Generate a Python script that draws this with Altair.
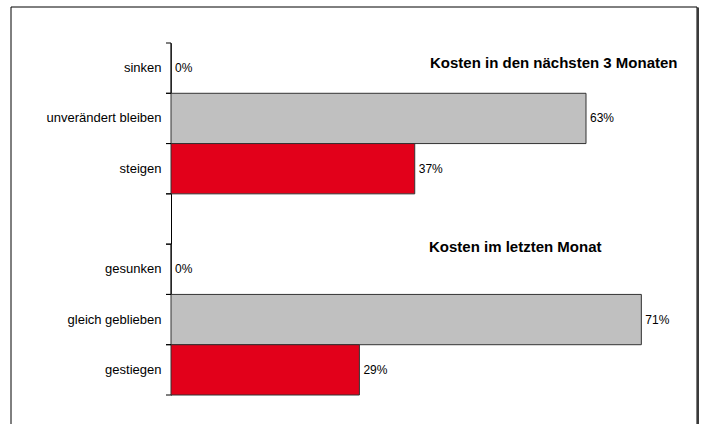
import altair as alt
import pandas as pd

# Category order on the y axis ("_gap" is the empty separator row)
categories = ["sinken", "unverändert bleiben", "steigen", "_gap",
              "gesunken", "gleich geblieben", "gestiegen"]

# Bars
bar_categories = ["sinken", "unverändert bleiben", "steigen",
                  "gesunken", "gleich geblieben", "gestiegen"]
bar_values = [0, 63, 37, 0, 71.4, 28.6]
bar_kinds = ["down", "same", "up", "down", "same", "up"]

kind_domain = ["down", "same", "up"]
kind_colors = ["#FFFFFF", "#C0C0C0", "#E2001A"]

titles = ["Kosten in den nächsten 3 Monaten", "Kosten im letzten Monat"]

FONT = "Liberation Sans"
W, H = 527, 352

df = pd.DataFrame({"cat": bar_categories, "value": bar_values, "kind": bar_kinds})
cat_df = pd.DataFrame({"cat": categories})
one = pd.DataFrame({"a": [0]})

yscale = alt.Scale(domain=categories, paddingInner=0, paddingOuter=0)
xscale = alt.Scale(domain=[0, 80], nice=False, zero=True)

yaxis = alt.Axis(
    title=None, ticks=False, domain=True, domainColor="#000000", domainWidth=1,
    labelFont=FONT, labelFontSize=13, labelColor="#000000", labelPadding=10,
    labelExpr="datum.value == '_gap' ? '' : datum.value", grid=False,
)

bars = alt.Chart(df).mark_bar(stroke="#333333", strokeWidth=1).encode(
    x=alt.X("value:Q", scale=xscale, axis=None),
    y=alt.Y("cat:N", scale=yscale, axis=yaxis, sort=categories),
    color=alt.Color("kind:N", scale=alt.Scale(domain=kind_domain, range=kind_colors), legend=None),
)

labels = alt.Chart(df).transform_calculate(
    label="format(datum.value, '.0f') + '%'"
).mark_text(align="left", baseline="middle", dx=4, font=FONT, fontSize=12, color="#000000").encode(
    x=alt.X("value:Q", scale=xscale, axis=None),
    y=alt.Y("cat:N", scale=yscale, sort=categories),
    text="label:N",
)

ticks_top = alt.Chart(cat_df).mark_rule(color="#000000", strokeWidth=1).encode(
    y=alt.Y("cat:N", scale=yscale, sort=categories, bandPosition=0),
    x=alt.value(-5), x2=alt.value(0),
)
ticks_bottom = alt.Chart(cat_df).mark_rule(color="#000000", strokeWidth=1).encode(
    y=alt.Y("cat:N", scale=yscale, sort=categories, bandPosition=1),
    x=alt.value(-5), x2=alt.value(0),
)

title1 = alt.Chart(one).mark_text(
    align="left", baseline="middle", font=FONT, fontSize=15, fontWeight="bold", color="#000000"
).encode(x=alt.value(259), y=alt.value(20), text=alt.value(titles[0]))
title2 = alt.Chart(one).mark_text(
    align="left", baseline="middle", font=FONT, fontSize=15, fontWeight="bold", color="#000000"
).encode(x=alt.value(258), y=alt.value(204), text=alt.value(titles[1]))

border = alt.Chart(one).mark_rect(filled=False, stroke="#000000", strokeWidth=1).encode(
    x=alt.value(-160), x2=alt.value(526), y=alt.value(-36), y2=alt.value(400),
)
shadow = alt.Chart(one).mark_rule(color="#3a3a3a", strokeWidth=2).encode(
    x=alt.value(527), y=alt.value(-35.5), y2=alt.value(400),
)

chart = alt.layer(
    border, shadow, bars, labels, ticks_top, ticks_bottom, title1, title2
).properties(
    width=W, height=H,
    background="#FFFFFF",
    autosize=alt.AutoSizeParams(type="none"),
    padding={"left": 171, "top": 43, "right": 3, "bottom": 29},
).configure_view(stroke=None)

chart.save("out.html", embed_options={"renderer": "svg", "actions": False})
